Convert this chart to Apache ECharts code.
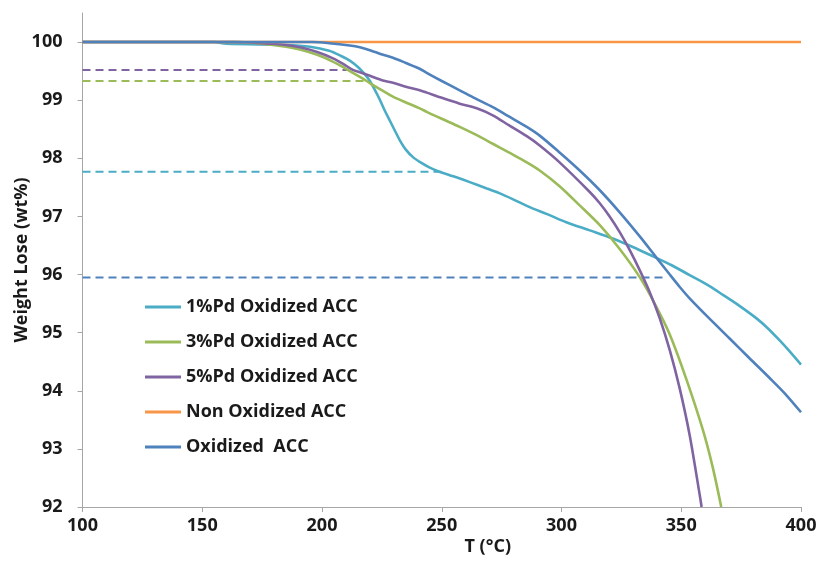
<!DOCTYPE html>
<html>
<head>
<meta charset="utf-8">
<script src="https://cdn.jsdelivr.net/npm/echarts@6/dist/echarts.min.js"></script>
<style>
  html, body { margin: 0; padding: 0; background: #fff; }
  #chart { width: 820px; height: 568px; }
</style>
</head>
<body>
<div id="chart"></div>
<script>
// TGA curves: temperature (°C) and remaining weight (wt%)
const seriesNames = ['1%Pd Oxidized ACC', '3%Pd Oxidized ACC', '5%Pd Oxidized ACC', 'Non Oxidized ACC', 'Oxidized  ACC'];
const seriesColors = ['#4bacc6', '#9bbb59', '#8064a2', '#f79646', '#4f81bd'];

const tPd1 = [100, 155, 160, 185, 195, 203, 208, 211.6, 215, 218, 220, 222, 224, 226, 228.3, 230.5, 232.5, 235, 238, 241.5, 245, 249, 253.3, 257, 261.7, 268.8, 274, 280, 286.7, 294, 302, 311.8, 321.4, 330, 336.8, 346, 353.5, 361.8, 367.4, 374, 381.3, 386, 391, 395, 400];
const wPd1 = [100, 100, 99.97, 99.95, 99.92, 99.85, 99.76, 99.68, 99.57, 99.44, 99.33, 99.18, 99.02, 98.84, 98.65, 98.47, 98.31, 98.15, 98.02, 97.92, 97.84, 97.77, 97.71, 97.66, 97.59, 97.48, 97.40, 97.29, 97.16, 97.04, 96.90, 96.76, 96.62, 96.47, 96.34, 96.16, 95.99, 95.80, 95.65, 95.47, 95.25, 95.08, 94.87, 94.69, 94.45];

const tPd3 = [100, 165, 175, 185, 190.8, 198, 204.7, 210, 212.9, 215.8, 218.6, 222, 225.5, 229.6, 235, 240.8, 243.7, 250, 257.5, 264, 271.3, 278, 285.5, 290.9, 299.2, 307.6, 316, 324.3, 332.6, 338.9, 345.2, 352.3, 359, 363.1, 366.7];
const wPd3 = [100, 100, 99.97, 99.92, 99.87, 99.78, 99.66, 99.54, 99.47, 99.40, 99.33, 99.24, 99.16, 99.06, 98.96, 98.86, 98.80, 98.68, 98.54, 98.41, 98.25, 98.10, 97.93, 97.79, 97.52, 97.19, 96.85, 96.44, 95.96, 95.50, 94.97, 94.18, 93.33, 92.69, 92.0];

const tPd5 = [100, 163, 175, 185, 190.8, 198, 204.6, 209, 212.9, 215.8, 220, 225.4, 229.6, 235, 240.8, 243.7, 250, 257.5, 264.6, 271.3, 278, 285.5, 290.9, 299.2, 311.8, 315.9, 320.1, 324.3, 328.5, 332.6, 336.8, 341, 345.2, 349.3, 353.5, 357.7, 358.5];
const wPd5 = [100, 100, 99.98, 99.95, 99.91, 99.83, 99.72, 99.62, 99.52, 99.48, 99.42, 99.34, 99.30, 99.23, 99.17, 99.13, 99.04, 98.94, 98.86, 98.74, 98.57, 98.38, 98.22, 97.93, 97.42, 97.23, 97.00, 96.73, 96.42, 96.08, 95.70, 95.25, 94.70, 94.05, 93.24, 92.21, 92.0];

const tNon = [100, 400];
const wNon = [100, 100];

const tOx = [100, 196, 203, 211.6, 215.8, 220, 225.5, 229.6, 235, 240.8, 243.7, 250, 257.5, 264, 271.3, 278, 285.5, 290.9, 299.2, 307.6, 316, 324.3, 332.6, 338.9, 345.2, 349.3, 353.5, 361.8, 370.2, 378.5, 386.9, 393.1, 400];
const wOx = [100, 100, 99.98, 99.94, 99.91, 99.86, 99.78, 99.73, 99.64, 99.54, 99.47, 99.33, 99.17, 99.03, 98.88, 98.72, 98.54, 98.39, 98.10, 97.79, 97.45, 97.07, 96.66, 96.33, 96.00, 95.79, 95.59, 95.24, 94.90, 94.56, 94.22, 93.96, 93.63];

// dashed reference levels (same order as the curves; non-oxidized has none)
const refLevels = [97.77, 99.33, 99.52, 95.95];
const refEndT = [250.5, 218, 210.5, 344];
const refColors = ['#4bacc6', '#9bbb59', '#8064a2', '#4f81bd'];

const yTicks = [92, 93, 94, 95, 96, 97, 98, 99, 100];

const zip = (xs, ys) => xs.map((x, i) => [x, ys[i]]);
const curveT = [tPd1, tPd3, tPd5, tNon, tOx];
const curveW = [wPd1, wPd3, wPd5, wNon, wOx];

const font = '"Open Sans", Lato, sans-serif';
const textColor = '#1a1a1a';

const series = [];
refLevels.forEach((lv, i) => {
  series.push({
    name: 'ref' + i,
    type: 'line',
    data: [[100, lv], [refEndT[i], lv]],
    showSymbol: false,
    silent: true,
    lineStyle: { color: refColors[i], width: 2, type: [8, 5] },
    z: 1
  });
});
seriesNames.forEach((n, i) => {
  series.push({
    name: n,
    type: 'line',
    data: zip(curveT[i], curveW[i]),
    showSymbol: false,
    smooth: 0.3,
    color: seriesColors[i],
    lineStyle: { color: seriesColors[i], width: 2.6 },
    z: 2 + i
  });
});

const chart = echarts.init(document.getElementById('chart'));
chart.setOption({
  animation: false,
  backgroundColor: '#ffffff',
  grid: { left: 82.5, right: 19, top: 13, bottom: 61, outerBoundsMode: 'none', containLabel: false },
  legend: {
    data: seriesNames,
    orient: 'vertical',
    left: 145,
    top: 297,
    padding: 0,
    icon: 'rect',
    itemWidth: 36,
    itemHeight: 3,
    itemGap: 15,
    textStyle: { fontFamily: font, fontWeight: 'bold', fontSize: 18, color: textColor, lineHeight: 20 }
  },
  xAxis: {
    type: 'value',
    min: 100,
    max: 400,
    interval: 50,
    name: 'T (°C)',
    nameLocation: 'middle',
    nameGap: 31,
    nameMoveOverlap: false,
    nameTextStyle: { fontFamily: font, fontWeight: 'bold', fontSize: 18, color: textColor, padding: [0, 0, 0, 92] },
    axisLine: { lineStyle: { color: '#a6a6a6', width: 1 } },
    axisTick: { show: true, length: 5, lineStyle: { color: '#a6a6a6' } },
    axisLabel: { margin: 10, fontFamily: font, fontWeight: 'bold', fontSize: 18, color: textColor },
    splitLine: { show: false }
  },
  yAxis: {
    type: 'value',
    min: 92,
    max: 100.5,
    interval: 1,
    name: 'Weight Lose (wt%)',
    nameLocation: 'middle',
    nameGap: 52,
    nameMoveOverlap: false,
    nameTextStyle: { fontFamily: font, fontWeight: 'bold', fontSize: 18, color: textColor },
    axisLine: { show: true, lineStyle: { color: '#a6a6a6', width: 1 } },
    axisTick: { show: true, length: 5, lineStyle: { color: '#a6a6a6' }, customValues: yTicks },
    axisLabel: {
      margin: 20, fontFamily: font, fontWeight: 'bold', fontSize: 18, color: textColor,
      customValues: yTicks,
      formatter: v => (Number.isInteger(v) ? String(v) : '')
    },
    splitLine: { show: false }
  },
  series: series
});
</script>
</body>
</html>
